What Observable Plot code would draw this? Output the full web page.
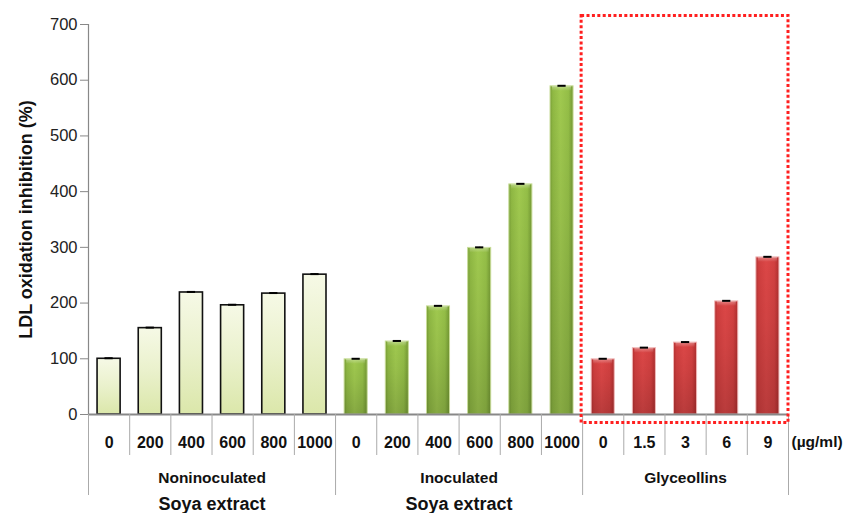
<!DOCTYPE html>
<html>
<head>
<meta charset="utf-8">
<script src="https://cdn.jsdelivr.net/npm/d3@7"></script>
<script src="https://cdn.jsdelivr.net/npm/@observablehq/plot@0.6"></script>
<style>
  html, body { margin: 0; padding: 0; background: white; }
  #chart { width: 846px; height: 513px; overflow: hidden; }
</style>
</head>
<body>
<div id="chart"></div>
<script>
// ---- data ----
const groups = ["Noninoculated", "Inoculated", "Glyceollins"];
const nonDoses = ["0", "200", "400", "600", "800", "1000"];
const nonValues = [100, 155, 219, 196, 217, 251];
const nonErrors = [1, 1, 1, 1, 1, 1];
const inocDoses = ["0", "200", "400", "600", "800", "1000"];
const inocValues = [99, 131, 194, 299, 413, 589];
const inocErrors = [1, 1, 1, 1, 1, 1];
const glyDoses = ["0", "1.5", "3", "6", "9"];
const glyValues = [99, 119, 129, 203, 282];
const glyErrors = [1, 1, 1, 1, 1];
const yTicks = [0, 100, 200, 300, 400, 500, 600, 700];
const yTitle = "LDL oxidation inhibition (%)";
const unitLabel = "(µg/ml)";
const soyaLabel = "Soya extract";
const soyaGroups = ["Noninoculated", "Inoculated"];
const highlightGroup = "Glyceollins";

// ---- build table ----
const series = [
  {group: groups[0], doses: nonDoses, values: nonValues, errors: nonErrors, fill: "url(#gNon)"},
  {group: groups[1], doses: inocDoses, values: inocValues, errors: inocErrors, fill: "url(#gInoc)"},
  {group: groups[2], doses: glyDoses, values: glyValues, errors: glyErrors, fill: "url(#gGly)"}
];
const rows = [];
const spans = [];
let idx = 0;
for (const s of series) {
  const start = idx;
  s.doses.forEach((d, k) => {
    rows.push({group: s.group, dose: d, value: s.values[k], err: s.errors[k], i: idx, fill: s.fill});
    idx++;
  });
  spans.push({group: s.group, start, end: idx, center: (start + idx) / 2});
}
const n = idx;
const boundaries = d3.range(0, n + 1);
const groupBounds = [0, ...spans.map(s => s.end)];
const minorBounds = boundaries.filter(b => !groupBounds.includes(b));
const soyaSpans = spans.filter(s => soyaGroups.includes(s.group));
const hl = spans.filter(s => s.group === highlightGroup);

const font = "'Liberation Sans', Arial, Helvetica, sans-serif";

const chart = Plot.plot({
  width: 846,
  height: 513,
  marginLeft: 88,
  marginRight: 58,
  marginTop: 24,
  marginBottom: 99,
  style: {fontFamily: font, background: "white", color: "#111"},
  x: {domain: [0, n], axis: null},
  y: {domain: [0, 700], axis: null},
  marks: [
    // y axis ticks and labels
    Plot.axisY({ticks: yTicks, tickSize: 8, tickPadding: 3, fontSize: 16.5, stroke: "#888", fill: "#222", label: null}),
    Plot.ruleX([0], {y1: 0, y2: 700, stroke: "#888", strokeWidth: 1.2}),
    // bars: base
    Plot.rectY(rows, {
      x1: d => d.i + 0.22, x2: d => d.i + 0.78, y1: 0, y2: "value",
      fill: d => d.fill,
      stroke: d => d.group === groups[0] ? "#111" : (d.group === groups[1] ? "#c8dc98" : "#f0b8b8"),
      strokeWidth: d => d.group === groups[0] ? 1.6 : 1
    }),
    // bars: vertical shading overlay for 3D bars
    Plot.rectY(rows.filter(d => d.group !== groups[0]), {
      x1: d => d.i + 0.22, x2: d => d.i + 0.78, y1: 0, y2: "value",
      fill: "url(#gShade)", insetLeft: 0.5, insetRight: 0.5
    }),
    // top highlight cap for 3D bars
    Plot.rectY(rows.filter(d => d.group !== groups[0]), {
      x1: d => d.i + 0.22, x2: d => d.i + 0.78, y1: "value", y2: "value",
      insetTop: 0, insetBottom: -5, insetLeft: 2, insetRight: 2,
      fill: "url(#gCap)"
    }),
    // error bars
    Plot.ruleX(rows, {x: d => d.i + 0.5, y1: "value", y2: d => d.value + d.err, stroke: "#000", strokeWidth: 1.5}),
    Plot.ruleY(rows, {y: d => d.value + d.err, x1: d => d.i + 0.4, x2: d => d.i + 0.6, stroke: "#000", strokeWidth: 2}),
    // x axis baseline
    Plot.ruleY([0], {stroke: "#888", strokeWidth: 2}),
    // category separators below the axis
    Plot.ruleX(minorBounds, {x: d => d, y1: 0, y2: 0, insetBottom: -41, stroke: "#aaa", strokeWidth: 1}),
    Plot.ruleX(groupBounds, {x: d => d, y1: 0, y2: 0, insetBottom: -81, stroke: "#aaa", strokeWidth: 1}),
    // dose labels
    Plot.text(rows, {x: d => d.i + 0.5, y: 0, text: "dose", dy: 28, fontSize: 16, fontWeight: "bold", fill: "#111"}),
    Plot.text([unitLabel], {x: n, y: 0, text: d => d, dy: 28, dx: 3, textAnchor: "start", fontSize: 15.5, fontWeight: "bold", fill: "#111"}),
    // group labels
    Plot.text(spans, {x: "center", y: 0, text: "group", dy: 64, fontSize: 15.5, fontWeight: "bold", fill: "#111"}),
    Plot.text(soyaSpans, {x: "center", y: 0, text: () => soyaLabel, dy: 95, lineAnchor: "bottom", fontSize: 18, fontWeight: "bold", fill: "#111"}),
    // y axis title
    Plot.text([yTitle], {frameAnchor: "left", textAnchor: "middle", text: d => d, rotate: -90, dx: -62, fontSize: 18, fontWeight: "bold", fill: "#111"}),
    // highlight box around Glyceollins
    Plot.rect(hl, {
      x1: "start", x2: "end", y1: 0, y2: 700,
      insetLeft: -1, insetRight: 0, insetTop: -8.5, insetBottom: -8.5,
      fill: "none", stroke: "#ff1f1f", strokeWidth: 3, strokeDasharray: "3,2.4"
    })
  ]
});

// gradient definitions used by the bar fills
const defs = d3.select(chart).insert("defs", ":first-child");
function hGrad(id, stops) {
  const g = defs.append("linearGradient").attr("id", id).attr("x1", 0).attr("x2", 1).attr("y1", 0).attr("y2", 0);
  stops.forEach(([o, c]) => g.append("stop").attr("offset", o).attr("stop-color", c));
}
function vGrad(id, stops) {
  const g = defs.append("linearGradient").attr("id", id).attr("x1", 0).attr("x2", 0).attr("y1", 0).attr("y2", 1);
  stops.forEach(([o, c, a]) => g.append("stop").attr("offset", o).attr("stop-color", c).attr("stop-opacity", a ?? 1));
}
vGrad("gNon", [[0, "#f6f9e6"], [0.5, "#eaf1cc"], [1, "#dbe7aa"]]);
hGrad("gInoc", [[0, "#789e36"], [0.12, "#8fb843"], [0.45, "#a0c94f"], [0.8, "#94be47"], [1, "#739833"]]);
hGrad("gGly", [[0, "#b33030"], [0.12, "#cf3e3e"], [0.45, "#dc4747"], [0.8, "#d24040"], [1, "#ad2e2e"]]);
vGrad("gShade", [[0, "#000", 0], [0.4, "#000", 0.05], [1, "#000", 0.16]]);
vGrad("gCap", [[0, "#fff", 0.35], [1, "#fff", 0]]);

document.getElementById("chart").appendChild(chart);
</script>
</body>
</html>
